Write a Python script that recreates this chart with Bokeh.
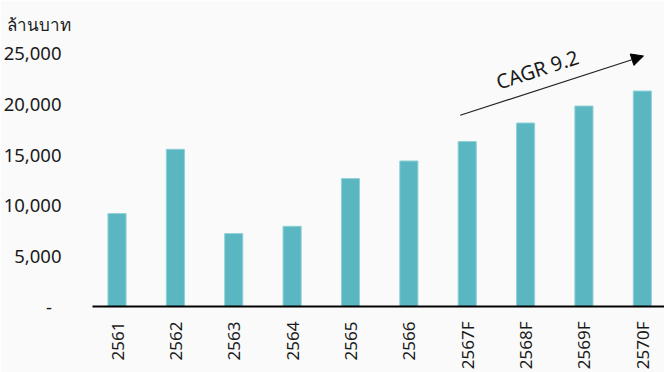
from bokeh.plotting import figure
from bokeh.models import Range1d, FixedTicker, ColumnDataSource, Arrow, NormalHead, Label, Title
from bokeh.embed import file_html
from bokeh.resources import INLINE
import math

years = ["2561", "2562", "2563", "2564", "2565", "2566", "2567F", "2568F", "2569F", "2570F"]
values = [9150, 15480, 7180, 7900, 12600, 14330, 16240, 18070, 19740, 21220]
y_ticks = [0, 5000, 10000, 15000, 20000, 25000]
y_tick_labels = ["-\u00a0\u00a0", "5,000", "10,000", "15,000", "20,000", "25,000"]
unit_label = "ล้านบาท"
cagr_label = "CAGR 9.2"

FONT = "Noto Sans"
TXT = "#1a1a1a"
BG = "#fafafa"
BAR = "#5ab6c0"

idx = list(range(len(years)))
src = ColumnDataSource(dict(x=idx, top=values))

p = figure(width=664, height=372, output_backend="svg", toolbar_location=None,
           x_range=Range1d(-0.42, 9.38), y_range=Range1d(0, 26000),
           min_border_left=92, min_border_right=0, min_border_top=42, min_border_bottom=66)
p.background_fill_color = BG
p.border_fill_color = BG
p.outline_line_color = None
p.grid.visible = False

p.add_layout(Title(text=unit_label, align="left", offset=-86, text_font=FONT,
                   text_font_size="17px", text_font_style="normal", text_color=TXT,
                   standoff=13), "above")

p.vbar(x="x", top="top", width=0.31, source=src, fill_color=BAR, line_color="#8fd0d6", line_width=1)

# y axis
ya = p.yaxis[0]
ya.ticker = FixedTicker(ticks=y_ticks)
ya.major_label_overrides = {t: l for t, l in zip(y_ticks, y_tick_labels)}
ya.axis_line_color = None
ya.major_tick_line_color = None
ya.minor_tick_line_color = None
ya.major_label_standoff = 25
ya.major_label_text_font = FONT
ya.major_label_text_font_size = "18.5px"
ya.major_label_text_color = TXT

# x axis
xa = p.xaxis[0]
xa.ticker = FixedTicker(ticks=idx)
xa.major_label_overrides = {i: y for i, y in zip(idx, years)}
xa.axis_line_color = "black"
xa.axis_line_width = 2
xa.major_tick_line_color = None
xa.minor_tick_line_color = None
xa.major_label_orientation = math.pi / 2
xa.major_label_standoff = 9
xa.major_label_text_font = FONT
xa.major_label_text_font_size = "17px"
xa.major_label_text_color = TXT

# CAGR arrow anchored on forecast bars
i0 = years.index("2567F")
i1 = len(years) - 1
x_start, y_start = i0 - 0.12, values[i0] + 2600
x_end, y_end = i1 + 0.02, values[i1] + 3450
p.add_layout(Arrow(end=NormalHead(size=12, fill_color="black", line_color="black"),
                   x_start=x_start, y_start=y_start, x_end=x_end, y_end=y_end,
                   line_color="#222222", line_width=1.2))

px_per_x = 572 / 9.8
px_per_y = 264 / 26000
ang = math.atan2((y_end - y_start) * px_per_y, (x_end - x_start) * px_per_x)
p.add_layout(Label(x=(x_start + x_end) / 2 - 0.25, y=(y_start + y_end) / 2 + 1600,
                   text=cagr_label, angle=ang, text_align="center", text_baseline="middle",
                   text_font=FONT, text_font_size="20px", text_color=TXT))

open("out.html", "w").write(file_html(p, INLINE))
